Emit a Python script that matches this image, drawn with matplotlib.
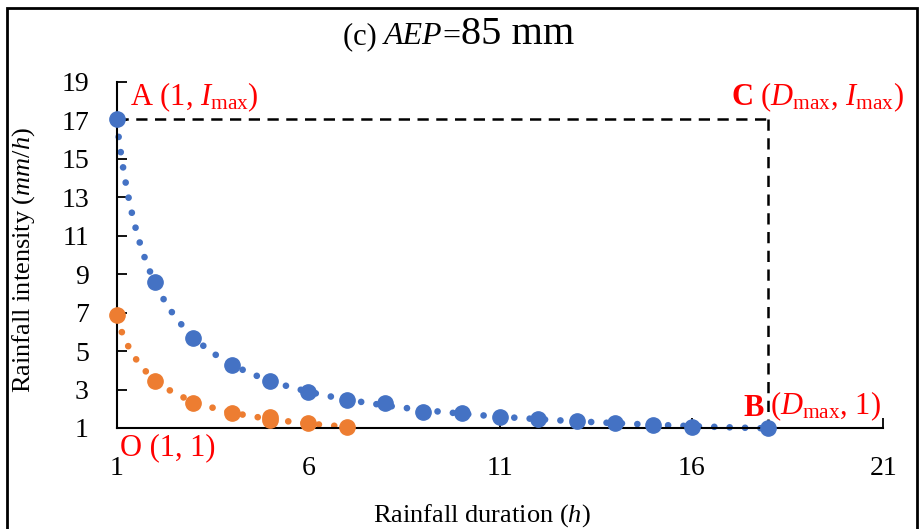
import numpy as np
import matplotlib
matplotlib.use("Agg")
import matplotlib.pyplot as plt
from matplotlib.patches import Rectangle

plt.rcParams['font.family'] = ['Liberation Serif', 'DejaVu Serif']
plt.rcParams['mathtext.fontset'] = 'custom'
plt.rcParams['mathtext.rm'] = 'Liberation Serif'
plt.rcParams['mathtext.it'] = 'Liberation Serif:italic'
plt.rcParams['mathtext.bf'] = 'Liberation Serif:bold'

# Data
blue_x = [1, 2, 3, 4, 5, 6, 7, 8, 9, 10, 11, 12, 13, 14, 15, 16, 18]
blue_y = [17.1, 8.57, 5.67, 4.28, 3.46, 2.86, 2.46, 2.29, 1.85, 1.77, 1.56, 1.45, 1.36, 1.28, 1.16, 1.07, 1.0]
orange_x = [1, 2, 3, 4, 5, 5, 6, 7]
orange_y = [6.88, 3.46, 2.29, 1.77, 1.58, 1.42, 1.24, 1.06]
x_ticks = [1, 6, 11, 16, 21]
y_ticks = [1, 3, 5, 7, 9, 11, 13, 15, 17, 19]
d_max = 18
i_max = 17.1

BLUE = '#4472C4'
ORANGE = '#ED7D31'

fig = plt.figure(figsize=(9.19, 5.29), dpi=100)
ax = fig.add_axes([0.127, 0.191, 0.834, 0.654])

def power_fit(x, y):
    x = np.asarray(x, float); y = np.asarray(y, float)
    b, a = np.polyfit(np.log(x), np.log(y), 1)
    xx = np.linspace(x.min(), x.max(), 300)
    return xx, np.exp(a) * xx ** b

dot = (0, (0.01, 2.3))
for xs, ys, c in [(blue_x, blue_y, BLUE), (orange_x, orange_y, ORANGE)]:
    xx, yy = power_fit(xs, ys)
    ax.plot(xx, yy, color=c, lw=4.8, ls=dot, dash_capstyle='round', zorder=2, clip_on=False)
    ax.plot(xs, ys, 'o', color=c, ms=11, mec=c, zorder=3, clip_on=False)

ax.plot([1, d_max], [i_max, i_max], color='black', lw=1.8, ls=(0, (4.5, 3)), zorder=1)
ax.plot([d_max, d_max], [i_max, 1], color='black', lw=1.8, ls=(0, (4.5, 3)), zorder=1)

ax.set_xlim(1, 21)
ax.set_ylim(1, 19)
ax.set_xticks(x_ticks)
ax.set_yticks(y_ticks)
ax.tick_params(direction='in', length=7, width=1.3, labelsize=20)
ax.tick_params(axis='x', pad=20)
ax.tick_params(axis='y', pad=20)
for s in ['top', 'right']:
    ax.spines[s].set_visible(False)
for s in ['left', 'bottom']:
    ax.spines[s].set_linewidth(1.5)

ax.set_xlabel('Rainfall duration ($\\mathit{h}$)', fontsize=19)
ax.xaxis.set_label_coords(0.476, -0.215)
ax.set_ylabel('Rainfall intensity ($\\mathit{mm/h}$)', fontsize=19)
ax.yaxis.set_label_coords(-0.104, 0.485)

red = '#FF0000'
ax.text(1.35, 17.35, 'A (1, $I_{\\mathrm{max}}$)', color=red, fontsize=22, ha='left', va='bottom')
ax.text(21.55, 17.35, '$\\mathbf{C}$ ($D_{\\mathrm{max}}$, $I_{\\mathrm{max}}$)', color=red, fontsize=22,
        ha='right', va='bottom', clip_on=False)
ax.text(17.9, 1.25, '$\\mathbf{B}$', color=red, fontsize=22, ha='right', va='bottom')
ax.text(18.05, 1.25, '($D_{\\mathrm{max}}$, 1)', color=red, fontsize=22, ha='left', va='bottom')
ax.text(1.08, 0.75, 'O (1, 1)', color=red, fontsize=22, ha='left', va='top', clip_on=False)

ty = 0.916
t1 = fig.text(0.373, ty, '(c) ', fontsize=22, ha='left', va='baseline')
fig.canvas.draw()
r = fig.canvas.get_renderer()
bb = t1.get_window_extent(r)
t2 = fig.text(bb.x1 / fig.bbox.width, ty, 'AEP', fontsize=23, style='italic', ha='left', va='baseline')
bb = t2.get_window_extent(r)
t3 = fig.text(bb.x1 / fig.bbox.width, ty, '=', fontsize=23, ha='left', va='baseline')
bb = t3.get_window_extent(r)
fig.text(bb.x1 / fig.bbox.width, ty, '85 mm', fontsize=29, ha='left', va='baseline')

fig.patches.append(Rectangle((0.008, -0.05), 0.99, 1.035, transform=fig.transFigure,
                             fill=False, edgecolor='black', lw=2))

fig.savefig('out.png', dpi=100)
